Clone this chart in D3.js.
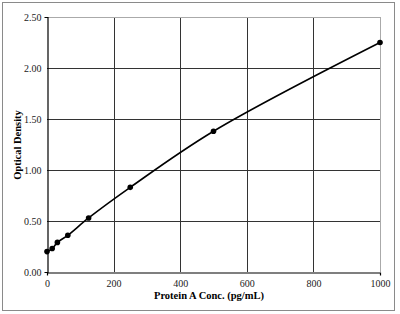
<!DOCTYPE html>
<html><head><meta charset="utf-8">
<script src="https://cdn.jsdelivr.net/npm/d3@7"></script>
<style>body{margin:0;background:#fff}svg{display:block}</style>
</head><body>
<svg id="c" width="400" height="314"></svg>
<script>
const concentrations = [0, 15.6, 31.25, 62.5, 125, 250, 500, 1000];
const opticalDensity = [0.20, 0.23, 0.29, 0.36, 0.53, 0.83, 1.38, 2.25];
const xTicks = [0, 200, 400, 600, 800, 1000];
const yTicks = [0, 0.5, 1.0, 1.5, 2.0, 2.5];
const xTitle = "Protein A Conc. (pg/mL)";
const yTitle = "Optical Density";

const svg = d3.select("#c");
const font = "'Liberation Serif','Times New Roman',serif";
const L = 47, R = 380, T = 17, B = 272;
const x = d3.scaleLinear().domain([0, 1000]).range([L, R]);
const y = d3.scaleLinear().domain([0, 2.5]).range([B, T]);

svg.append("rect").attr("x", 2.5).attr("y", 2.5).attr("width", 392).attr("height", 308)
  .attr("fill", "none").attr("stroke", "#8a8a8a").attr("stroke-width", 1);

// grid
svg.append("g").selectAll("line").data(xTicks.slice(1)).join("line")
  .attr("x1", d => Math.round(x(d)) + 0.5).attr("x2", d => Math.round(x(d)) + 0.5)
  .attr("y1", T).attr("y2", B)
  .attr("stroke", d => d === 1000 ? "#aaa" : "#333").attr("stroke-width", 1);
svg.append("g").selectAll("line").data(yTicks.slice(1)).join("line")
  .attr("y1", d => Math.round(y(d)) + 0.5).attr("y2", d => Math.round(y(d)) + 0.5)
  .attr("x1", L).attr("x2", R)
  .attr("stroke", d => d === 2.5 ? "#aaa" : "#333").attr("stroke-width", 1);

// axes
const xa = svg.append("g").attr("transform", `translate(0,${B + 0.5})`)
  .call(d3.axisBottom(x).tickValues(xTicks).tickFormat(d3.format("d")).tickSize(3).tickPadding(4));
const ya = svg.append("g").attr("transform", `translate(${L + 0.5},0)`)
  .call(d3.axisLeft(y).tickValues(yTicks).tickFormat(d3.format(".2f")).tickSize(3).tickPadding(3));
[xa, ya].forEach(g => {
  g.selectAll("path").attr("stroke", "#000").attr("stroke-width", 1.2);
  g.selectAll("line").attr("stroke", "#000");
  g.selectAll("text").attr("font-family", font).attr("font-size", 10).attr("fill", "#222");
});
ya.selectAll(".tick line").attr("x2", 0);
xa.selectAll(".tick line").attr("y2", 0);

// curve
const pts = concentrations.map((c, i) => [c, opticalDensity[i]]);
svg.append("path").datum(pts)
  .attr("d", d3.line().x(d => x(d[0])).y(d => y(d[1])).curve(d3.curveCatmullRom.alpha(0.5)))
  .attr("fill", "none").attr("stroke", "#000").attr("stroke-width", 1.6);
svg.append("g").selectAll("circle").data(pts).join("circle")
  .attr("cx", d => x(d[0])).attr("cy", d => y(d[1])).attr("r", 2.8).attr("fill", "#000");

// titles
svg.append("text").attr("x", 209).attr("y", 299).attr("text-anchor", "middle")
  .attr("font-family", font).attr("font-weight", "bold").attr("font-size", 10.5).text(xTitle);
svg.append("text").attr("transform", "translate(21,145) rotate(-90)").attr("text-anchor", "middle")
  .attr("font-family", font).attr("font-weight", "bold").attr("font-size", 10.5).text(yTitle);
</script>
</body></html>
